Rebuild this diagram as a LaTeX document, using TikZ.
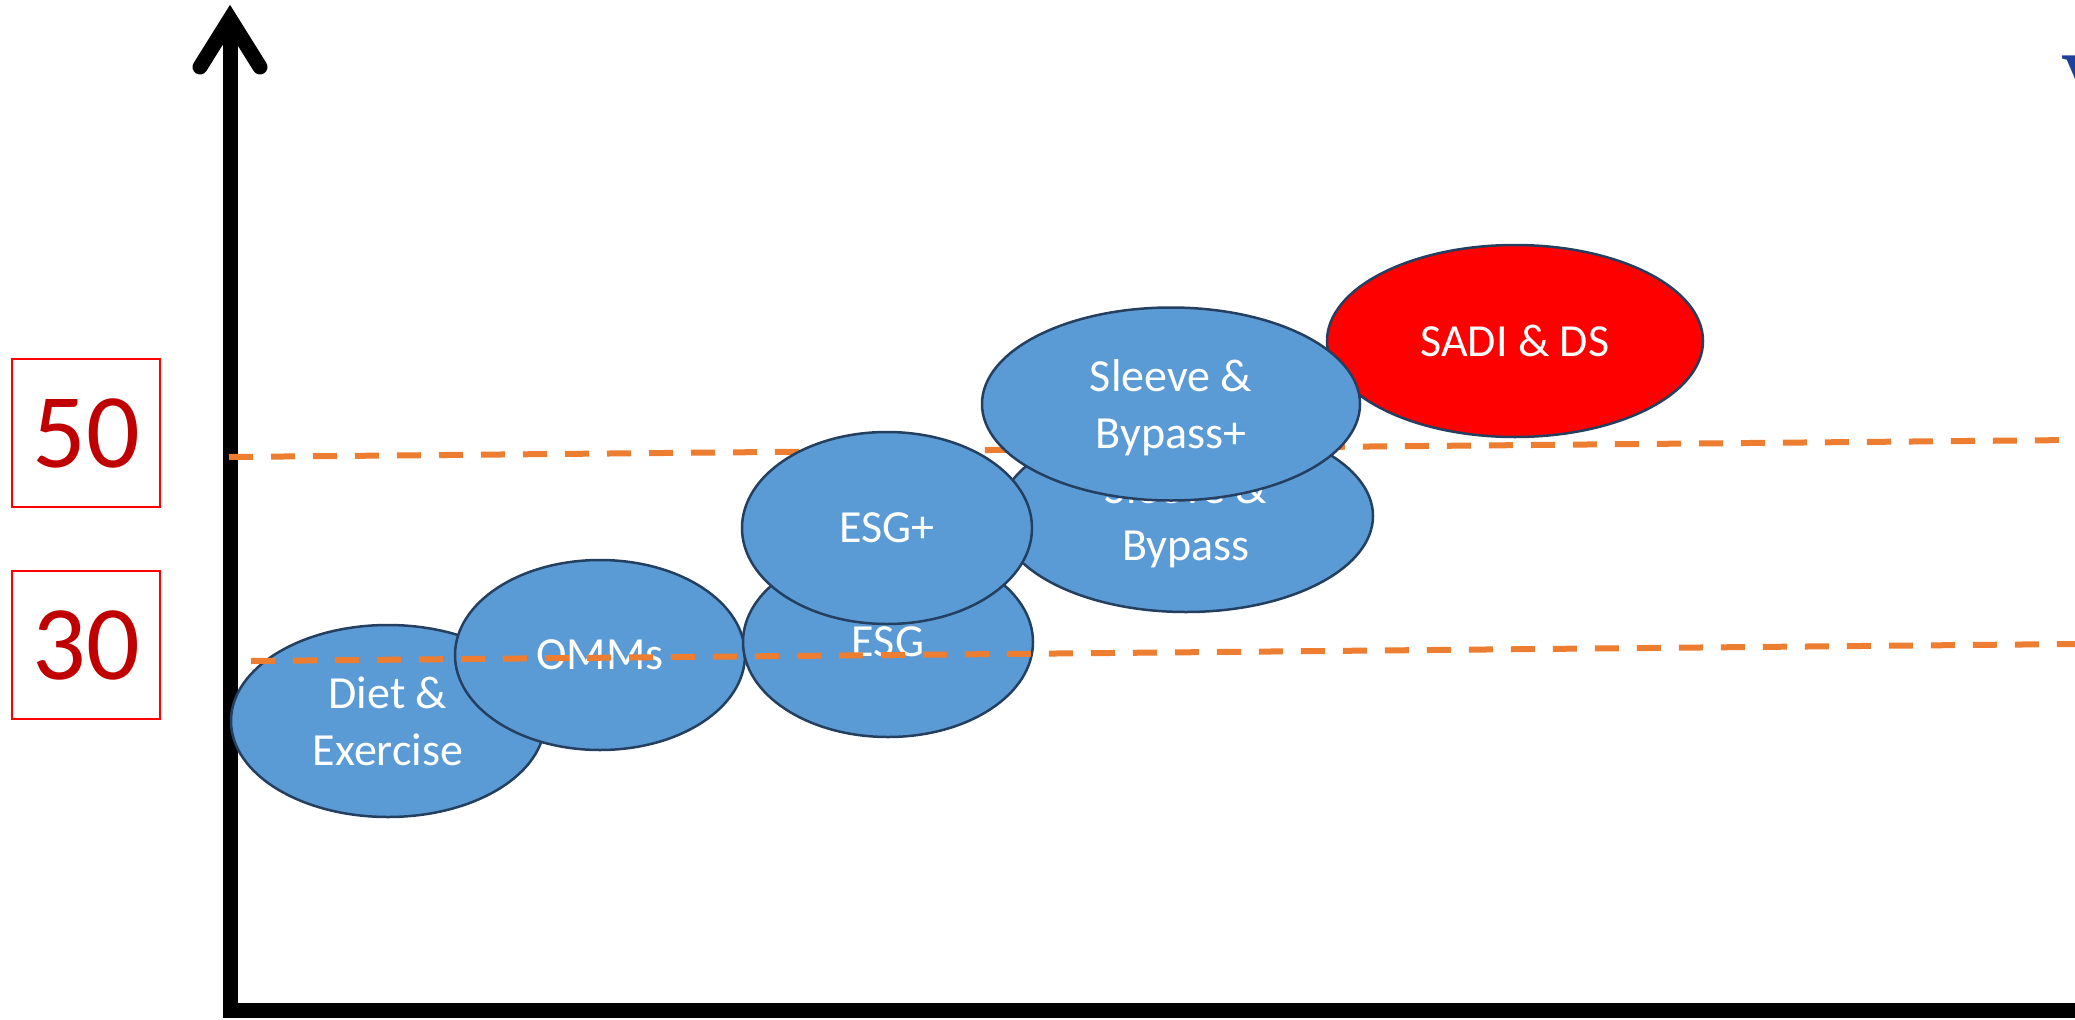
\documentclass[tikz,border=0pt]{standalone}
\usepackage{fontspec}
\setmainfont{Carlito}
\newfontfamily\vfont{Liberation Serif}
\usetikzlibrary{shapes.geometric}
\definecolor{ellblue}{HTML}{5B9BD5}
\definecolor{elledge}{HTML}{243F60}
\definecolor{dashorange}{HTML}{ED7D31}
\definecolor{boxred}{HTML}{FF0000}
\definecolor{numred}{HTML}{C00000}
\definecolor{titleblue}{RGB}{31,63,153}
\tikzset{
  oval/.style={ellipse, draw=elledge, line width=2.5pt, fill=ellblue, inner sep=0pt,
    text=white, align=center, font=\fontsize{46}{57}\selectfont, text depth=0pt},
  redoval/.style={oval, fill=boxred},
  numbox/.style={draw=boxred, line width=2pt, minimum width=148pt, minimum height=148pt,
    inner sep=0pt, text=numred, font=\fontsize{106}{120}\selectfont},
  axisline/.style={line width=15pt, line join=miter, draw=black},
  levelline/.style={draw=dashorange, line width=6pt, dash pattern=on 24pt off 18pt}
}
\begin{document}
\begin{tikzpicture}[x=1pt, y=-1pt]
\useasboundingbox (0,0) rectangle (2075,1020);
\clip (0,0) rectangle (2075,1020);
% axes
\coordinate (ytop) at (230,19);
\coordinate (origin) at (230,1010);
\coordinate (xend) at (2075,1010);
\coordinate (wingl) at (200,67);
\coordinate (wingr) at (260,67);
\draw[axisline] (ytop) -- (origin) -- (xend);
\draw[axisline, line cap=round] (wingl) -- (ytop) -- (wingr);
% level boxes
\node[numbox] (box50) at (86,433) {50};
\node[numbox] (box30) at (86,645) {30};
% ellipses
\node[oval, minimum width=314pt, minimum height=192pt] (diet) at (388,721) {Diet \&\\Exercise};
\node[oval, minimum width=290pt, minimum height=190pt] (omms) at (600,655) {OMMs};
\node[oval, minimum width=290pt, minimum height=190pt] (esg) at (888,642) {ESG};
\node[oval, minimum width=374pt, minimum height=192pt] (sb) at (1186,516) {Sleeve \&\\Bypass};
% 50 line
\coordinate (l50a) at (229,457);
\coordinate (l50b) at (2075,440);
\draw[levelline] (l50a) -- (l50b);
\node[oval, minimum width=290pt, minimum height=192pt] (esgp) at (887,528) {ESG+};
\node[redoval, minimum width=376pt, minimum height=192pt] (sadi) at (1515,341) {SADI \& DS};
\node[oval, minimum width=378pt, minimum height=193pt] (sbp) at (1171,404) {Sleeve \&\\Bypass+};
% 30 line
\coordinate (l30a) at (251,661);
\coordinate (l30b) at (2075,644);
\draw[levelline] (l30a) -- (l30b);
% partial title letter at the top right
\node[anchor=north west, inner sep=0pt, text=titleblue, font=\vfont\bfseries\fontsize{88}{100}\selectfont] (vtitle) at (2061,56) {V};
\end{tikzpicture}
\end{document}
